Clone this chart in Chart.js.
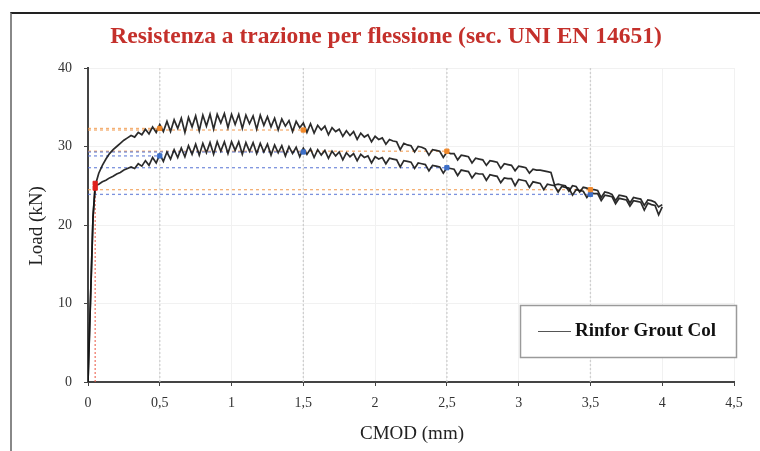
<!DOCTYPE html>
<html>
<head>
<meta charset="utf-8">
<script src="https://cdn.jsdelivr.net/npm/chart.js@4"></script>
<style>
  html, body { margin: 0; padding: 0; background: #fff; }
  #wrap { position: relative; width: 760px; height: 451px; overflow: hidden; }
  #frame { position: absolute; left: 10px; top: 12px; width: 760px; height: 460px;
           border-top: 2px solid #222; border-left: 2px solid #888; }
  #chart { position: absolute; left: 0; top: 0; }
</style>
</head>
<body>
<div id="wrap">
  <div id="frame"></div>
  <canvas id="chart" width="760" height="451"></canvas>
</div>
<script>
// --- Data ---
const cmod = [
  0, 0.02, 0.035,
  0.05, 0.075, 0.1, 0.125, 0.15, 0.175, 0.2, 0.225, 0.25, 0.275,
  0.3, 0.325, 0.35, 0.375, 0.4, 0.425, 0.45, 0.475, 0.5, 0.525,
  0.55, 0.575, 0.6, 0.625, 0.65, 0.675, 0.7, 0.725, 0.75, 0.775,
  0.8, 0.825, 0.85, 0.875, 0.9, 0.925, 0.95, 0.975, 1.0, 1.025,
  1.05, 1.075, 1.1, 1.125, 1.15, 1.175, 1.2, 1.225, 1.25, 1.275,
  1.3, 1.325, 1.35, 1.375, 1.4, 1.425, 1.45, 1.475, 1.5, 1.525,
  1.55, 1.575, 1.6, 1.625, 1.65, 1.675, 1.7, 1.725, 1.75, 1.775,
  1.8, 1.825, 1.85, 1.875, 1.9, 1.925, 1.95, 1.975, 2.0, 2.025,
  2.05, 2.075, 2.1, 2.125, 2.15, 2.175, 2.2, 2.225, 2.25, 2.275,
  2.3, 2.325, 2.35, 2.375, 2.4, 2.425, 2.45, 2.475, 2.5, 2.525,
  2.55, 2.575, 2.6, 2.625, 2.65, 2.675, 2.7, 2.725, 2.75, 2.775,
  2.8, 2.825, 2.85, 2.875, 2.9, 2.925, 2.95, 2.975, 3.0, 3.025,
  3.05, 3.075, 3.1, 3.125, 3.15, 3.175, 3.2, 3.225, 3.25, 3.275,
  3.3, 3.325, 3.35, 3.375, 3.4, 3.425, 3.45, 3.475, 3.5, 3.525,
  3.55, 3.575, 3.6, 3.625, 3.65, 3.675, 3.7, 3.725, 3.75, 3.775,
  3.8, 3.825, 3.85, 3.875, 3.9, 3.925, 3.95, 3.975, 4.0
];

// upper specimen (orange markers)
const loadA = [
  0, 12, 21,
  25.0, 26.6, 27.6, 28.4, 29.1, 29.6, 30.0, 30.4, 30.8, 31.1,
  31.4, 31.2, 31.8, 31.5, 32.2, 31.6, 32.5, 31.8, 32.8, 31.9,
  33.2, 31.9, 33.4, 32.3, 33.6, 31.8, 33.7, 32.5, 33.9, 32.0,
  34.0, 32.6, 34.1, 32.2, 34.1, 33.0, 34.2, 32.4, 34.1, 32.8,
  34.1, 32.3, 34.0, 32.9, 33.9, 32.2, 34.0, 32.7, 33.8, 32.5,
  33.6, 32.1, 33.5, 32.6, 33.3, 31.9, 33.2, 32.4, 33.0, 31.8,
  32.9, 31.7, 32.7, 32.1, 32.6, 31.5, 32.4, 31.9, 32.2, 31.3,
  32.0, 31.4, 31.9, 30.9, 31.7, 31.2, 31.5, 30.6, 31.3, 30.9,
  31.1, 30.3, 30.9, 30.7, 30.6, 29.6, 30.4, 30.2, 30.1, 29.3,
  30.0, 29.9, 29.7, 28.9, 29.6, 29.5, 29.4, 28.6, 29.3, 29.1,
  29.1, 28.3, 28.9, 28.8, 28.7, 27.9, 28.5, 28.4, 28.3, 27.6,
  28.2, 28.1, 28.0, 27.2, 27.8, 27.7, 27.6, 26.9, 27.5, 27.4,
  27.3, 26.6, 27.1, 27.0, 27.0, 26.9, 26.8, 26.7, 25.1, 25.2,
  25.1, 25.0, 24.3, 25.0, 24.9, 24.2, 24.8, 24.7, 24.5, 24.5,
  24.4, 23.5, 24.2, 24.1, 23.9, 23.1, 23.8, 23.7, 23.6, 22.8,
  23.5, 23.4, 23.3, 22.5, 23.2, 23.1, 22.9, 22.3, 22.6
];

// lower specimen (blue markers)
const loadB = [
  0, 12, 21,
  25.0, 25.2, 25.5, 25.7, 26.0, 26.2, 26.5, 26.7, 27.0, 27.2,
  27.4, 27.2, 27.8, 27.5, 28.2, 27.6, 28.6, 27.9, 29.0, 28.1,
  29.3, 28.4, 29.6, 28.6, 29.8, 28.7, 30.1, 29.0, 30.3, 28.9,
  30.4, 29.2, 30.5, 29.0, 30.6, 29.4, 30.6, 29.1, 30.6, 29.5,
  30.6, 29.0, 30.5, 29.4, 30.5, 29.1, 30.4, 29.3, 30.3, 28.9,
  30.2, 29.2, 30.1, 28.8, 30.0, 29.1, 29.9, 28.7, 29.8, 29.0,
  29.7, 28.6, 29.6, 28.9, 29.5, 28.5, 29.4, 28.8, 29.3, 28.3,
  29.2, 28.7, 29.1, 28.2, 29.0, 28.6, 28.8, 27.9, 28.7, 28.4,
  28.6, 27.8, 28.5, 28.4, 28.3, 27.4, 28.2, 28.1, 28.0, 27.2,
  27.9, 27.8, 27.7, 26.9, 27.6, 27.5, 27.4, 26.6, 27.3, 27.2,
  27.1, 26.3, 27.0, 26.9, 26.8, 26.0, 26.6, 26.5, 26.5, 25.7,
  26.4, 26.3, 26.2, 25.4, 26.0, 25.9, 25.9, 25.0, 25.8, 25.7,
  25.6, 24.8, 25.5, 25.4, 25.3, 24.5, 25.2, 25.1, 25.0, 24.2,
  24.9, 24.8, 24.7, 23.8, 24.5, 24.4, 24.3, 23.5, 24.1, 24.0,
  24.0, 23.1, 23.8, 23.7, 23.6, 22.7, 23.4, 23.3, 23.2, 22.4,
  23.1, 23.0, 22.9, 21.9, 22.8, 22.6, 22.5, 21.3, 22.3
];

// residual strength points (CMOD 0.5 / 1.5 / 2.5 / 3.5)
const checkCmod = [0.5, 1.5, 2.5, 3.5];
const checkLoadA = [32.3, 32.1, 29.4, 24.5];
const checkLoadB = [28.8, 29.3, 27.3, 23.9];

// limit of proportionality
const limitCmod = [0.05, 0.05];
const limitLoad = [25.3, 24.7];

const xTicks = [0, 0.5, 1, 1.5, 2, 2.5, 3, 3.5, 4, 4.5];
const yTicks = [0, 10, 20, 30, 40];

const titleText = 'Resistenza a trazione per flessione (sec. UNI EN 14651)';
const legendText = 'Rinfor Grout Col';

// --- Build datasets ---
const SERIF = '"Liberation Serif", "DejaVu Serif", serif';
const toPoints = (xs, ys) => xs.map((x, i) => ({ x: x, y: ys[i] }));

const refLine = (pts, color, dash) => ({
  type: 'line', data: pts, borderColor: color, borderWidth: 1.3,
  borderDash: dash, pointRadius: 0, fill: false, order: 3
});

const datasets = [];

// vertical dotted guides at the check CMODs
checkCmod.forEach(c => {
  datasets.push(refLine([{ x: c, y: 0 }, { x: c, y: 40 }], '#cfcfcf', [2, 2]));
});
// horizontal dashed lines to each check point
checkCmod.forEach((c, i) => {
  datasets.push(refLine([{ x: 0, y: checkLoadA[i] }, { x: c, y: checkLoadA[i] }], 'rgba(240,150,70,0.75)', [3, 3]));
  datasets.push(refLine([{ x: 0, y: checkLoadB[i] }, { x: c, y: checkLoadB[i] }], 'rgba(80,110,210,0.75)', [3, 3]));
});
// limit of proportionality: vertical red dotted
datasets.push(refLine([{ x: limitCmod[0], y: 0 }, { x: limitCmod[0], y: limitLoad[0] }], 'rgba(235,90,70,0.8)', [2, 2]));

// load curves
[loadA, loadB].forEach(ld => {
  datasets.push({
    type: 'line', data: toPoints(cmod, ld), borderColor: 'rgba(20,20,20,0.9)',
    borderWidth: 1.7, pointRadius: 0, fill: false, tension: 0, order: 2
  });
});

// markers
const marker = (xs, ys, color) => ({
  type: 'scatter', data: toPoints(xs, ys), backgroundColor: color, borderColor: color,
  pointStyle: 'rect', pointRadius: 3, order: 1
});
datasets.push(marker(checkCmod, checkLoadA, '#f0882a'));
datasets.push(marker(checkCmod, checkLoadB, '#3d6fc8'));
datasets.push(marker(limitCmod, limitLoad, '#e0201c'));

// --- Text and legend drawn on the canvas ---
const decor = {
  id: 'decor',
  afterDraw(chart) {
    const ctx = chart.ctx;
    ctx.save();
    ctx.textAlign = 'center';
    ctx.textBaseline = 'middle';

    ctx.fillStyle = '#c4302b';
    ctx.font = 'bold 23.5px ' + SERIF;
    ctx.fillText(titleText, 386, 37);

    ctx.fillStyle = '#222';
    ctx.font = '19px ' + SERIF;
    ctx.fillText('CMOD (mm)', 412, 434);

    ctx.save();
    ctx.translate(37, 226);
    ctx.rotate(-Math.PI / 2);
    ctx.font = '19px ' + SERIF;
    ctx.fillText('Load (kN)', 0, 0);
    ctx.restore();

    // legend box
    ctx.fillStyle = '#fff';
    ctx.fillRect(520, 305, 216, 52);
    ctx.strokeStyle = '#9a9a9a';
    ctx.lineWidth = 1.5;
    ctx.strokeRect(520.5, 305.5, 216, 52);
    ctx.strokeStyle = '#555';
    ctx.lineWidth = 1;
    ctx.beginPath();
    ctx.moveTo(538, 331.5);
    ctx.lineTo(571, 331.5);
    ctx.stroke();
    ctx.fillStyle = '#111';
    ctx.font = 'bold 19px ' + SERIF;
    ctx.textAlign = 'left';
    ctx.fillText(legendText, 575, 331);
    ctx.restore();
  }
};

new Chart(document.getElementById('chart').getContext('2d'), {
  data: { datasets },
  options: {
    responsive: false,
    devicePixelRatio: 1,
    animation: false,
    layout: { padding: { left: 0, top: 68, right: 26, bottom: 0 } },
    plugins: { legend: { display: false }, tooltip: { enabled: false }, title: { display: false } },
    scales: {
      x: {
        type: 'linear', min: 0, max: 4.5,
        afterFit: s => { s.height = 69; },
        afterBuildTicks: s => { s.ticks = xTicks.map(v => ({ value: v })); },
        border: { color: '#444', width: 2 },
        grid: { color: '#f1f1f1', tickColor: '#444', tickLength: 4 },
        ticks: {
          color: '#333', padding: 9, font: { family: SERIF, size: 14 },
          callback: v => String(v).replace('.', ',')
        }
      },
      y: {
        type: 'linear', min: 0, max: 40,
        afterFit: s => { s.width = 88; },
        afterBuildTicks: s => { s.ticks = yTicks.map(v => ({ value: v })); },
        border: { color: '#444', width: 2 },
        grid: { color: '#f1f1f1', tickColor: '#444', tickLength: 4 },
        ticks: { color: '#333', padding: 12, font: { family: SERIF, size: 14 } }
      }
    }
  },
  plugins: [decor]
});
</script>
</body>
</html>
